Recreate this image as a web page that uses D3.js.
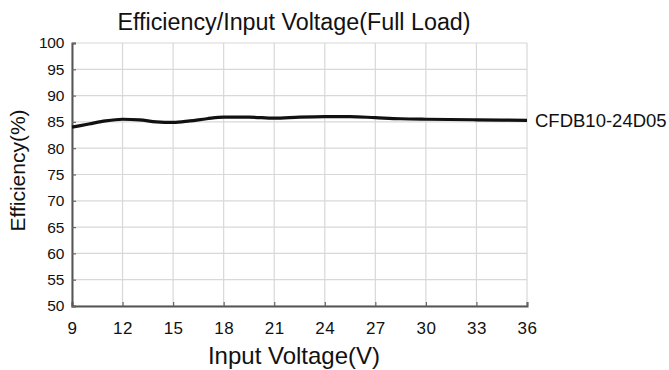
<!DOCTYPE html>
<html><head><meta charset="utf-8">
<script src="https://cdn.jsdelivr.net/npm/d3@7"></script>
<style>body{margin:0;background:#fff}svg{display:block}text{font-family:"Liberation Sans",Arial,sans-serif;fill:#111}</style>
</head><body><svg id="c" width="669" height="370"></svg>
<script>
const voltages = [9, 10, 11, 12, 13, 14, 15, 16, 17, 18, 19.5, 21, 22.5, 24, 25.5, 27, 28.5, 30, 33, 36];
const efficiency = [84.0, 84.6, 85.2, 85.5, 85.4, 85.0, 84.9, 85.2, 85.6, 85.9, 85.9, 85.7, 85.9, 86.0, 86.0, 85.8, 85.6, 85.5, 85.4, 85.3];
const xTicks = [9, 12, 15, 18, 21, 24, 27, 30, 33, 36];
const yTicks = [50, 55, 60, 65, 70, 75, 80, 85, 90, 95, 100];
const seriesName = "CFDB10-24D05";
const title = "Efficiency/Input Voltage(Full Load)";
const xLabel = "Input Voltage(V)";
const yLabel = "Efficiency(%)";

const svg = d3.select("#c");
const L = 72, R = 527, T = 43, B = 306;
const x = d3.scaleLinear().domain([9, 36]).range([L, R]);
const y = d3.scaleLinear().domain([50, 100]).range([B, T]);

// grid
svg.append("g").selectAll("line").data(xTicks).join("line")
  .attr("x1", d => x(d)).attr("x2", d => x(d)).attr("y1", T).attr("y2", B)
  .attr("stroke", "#d8d8d8").attr("stroke-width", 1.2);
svg.append("g").selectAll("line").data(yTicks).join("line")
  .attr("x1", L).attr("x2", R).attr("y1", d => y(d)).attr("y2", d => y(d))
  .attr("stroke", "#d8d8d8").attr("stroke-width", 1.2);

// axes
const xAxis = svg.append("g").attr("transform", `translate(0,${B})`)
  .call(d3.axisBottom(x).tickValues(xTicks).tickSize(-4).tickPadding(16).tickFormat(d3.format("d")));
const yAxis = svg.append("g").attr("transform", `translate(${L},0)`)
  .call(d3.axisLeft(y).tickValues(yTicks).tickSize(-4).tickPadding(8).tickFormat(d3.format("d")));
[xAxis, yAxis].forEach(a => {
  a.select(".domain").attr("stroke", "#555").attr("stroke-width", 2);
  a.selectAll(".tick line").attr("stroke", "#666").attr("stroke-width", 1.2);
  a.selectAll("text").attr("fill", "#111");
});
xAxis.selectAll("text").style("font-size", "17px").style("letter-spacing", "0.5px");
yAxis.selectAll("text").style("font-size", "15.5px").style("letter-spacing", "-0.3px");

// line
const line = d3.line().x((d, i) => x(voltages[i])).y(d => y(d)).curve(d3.curveMonotoneX);
svg.append("path").datum(efficiency).attr("d", line)
  .attr("fill", "none").attr("stroke", "#111").attr("stroke-width", 3.2).attr("stroke-linejoin", "round");

// labels
svg.append("text").attr("x", R + 8).attr("y", y(efficiency[efficiency.length - 1]) + 6.5)
  .style("font-size", "18.5px").text(seriesName);
svg.append("text").attr("x", 294).attr("y", 30).attr("text-anchor", "middle")
  .style("font-size", "23.3px").text(title);
svg.append("text").attr("x", 294).attr("y", 364).attr("text-anchor", "middle")
  .style("font-size", "24px").text(xLabel);
svg.append("text").attr("transform", `translate(25,${(T + B) / 2 - 4}) rotate(-90)`).attr("text-anchor", "middle")
  .style("font-size", "21px").text(yLabel);
</script></body></html>
